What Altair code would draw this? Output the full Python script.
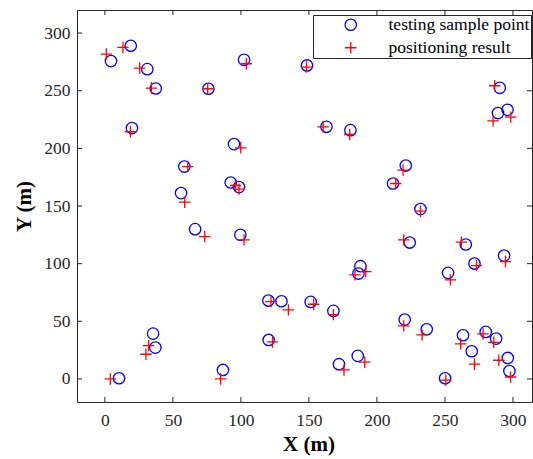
import altair as alt
import pandas as pd

# Test sample locations (m)
sample_x = [19.0, 4.5, 31.2, 37.4, 76.1, 102.3, 148.6, 19.9, 94.9, 58.4,
            92.5, 98.6, 56.0, 290.3, 289.0, 296.0, 162.9, 180.5, 221.2, 211.8,
            232.0, 224.1, 265.3, 293.5, 271.7, 187.9, 186.4, 252.3, 151.3, 168.0,
            220.4, 236.6, 263.3, 280.0, 287.6, 269.7, 296.2, 297.4, 250.1, 172.1,
            185.9, 66.3, 99.6, 120.2, 129.8, 120.4, 35.4, 37.1, 10.4, 86.8]
sample_y = [289.0, 275.7, 268.7, 251.9, 251.7, 276.8, 271.9, 217.6, 203.7, 184.2,
            170.4, 166.4, 161.2, 252.5, 230.6, 233.4, 218.7, 215.8, 185.1, 169.5,
            147.3, 118.3, 116.6, 107.0, 100.1, 97.8, 91.4, 92.0, 66.8, 59.0,
            51.5, 43.1, 37.9, 40.8, 35.0, 24.0, 18.2, 6.9, 0.6, 12.8,
            20.0, 129.9, 125.0, 68.0, 67.4, 33.8, 39.3, 27.2, 0.6, 7.8]

# Estimated positions for the same samples (m)
result_x = [13.3, 1.1, 25.6, 34.2, 75.6, 104.0, 148.2, 18.75, 99.9, 60.9,
            96.0, 98.6, 58.7, 286.6, 285.4, 298.4, 160.4, 180.0, 219.2, 213.8,
            232.0, 219.7, 262.1, 294.5, 273.2, 191.8, 183.9, 254.0, 153.5, 168.0,
            219.7, 233.2, 261.6, 278.0, 285.9, 271.7, 289.6, 298.2, 250.6, 175.8,
            191.0, 73.4, 102.3, 122.1, 134.9, 123.2, 32.2, 30.2, 4.0, 85.1]
result_y = [287.5, 281.8, 269.6, 252.3, 251.7, 273.4, 270.5, 214.4, 200.5, 184.2,
            167.8, 164.6, 153.3, 254.3, 223.9, 227.1, 218.7, 212.0, 181.1, 169.5,
            145.5, 120.6, 118.6, 101.8, 98.3, 93.1, 90.3, 85.9, 64.8, 55.8,
            46.0, 38.2, 30.4, 39.1, 31.8, 12.8, 16.2, 1.7, -1.1, 7.8,
            14.5, 123.5, 120.6, 67.1, 59.9, 32.1, 28.9, 21.4, 0.0, 0.0]

x_ticks = [0, 50, 100, 150, 200, 250, 300]
y_ticks = [0, 50, 100, 150, 200, 250, 300]

SERIES = ["testing sample point", "positioning result"]

W, H = 455, 392
AXIS_COLOR = "#262626"
FONT = "Liberation Serif"

points = pd.DataFrame({
    "x": sample_x + result_x,
    "y": sample_y + result_y,
    "kind": [SERIES[0]] * len(sample_x) + [SERIES[1]] * len(result_x),
})

xs = alt.Scale(domain=[-20.5, 314], nice=False, zero=False)
ys = alt.Scale(domain=[-20, 320], nice=False, zero=False)

x_axis = alt.Axis(values=x_ticks, title="X (m)", labelPadding=9,
                  titleX=W / 2 + 4, titleY=48, titleBaseline="alphabetic")
y_axis = alt.Axis(values=y_ticks, title="Y (m)", labelPadding=7,
                  titleX=-47, titleY=H / 2, titleAngle=270,
                  titleAlign="center", titleBaseline="alphabetic")

scatter = alt.Chart(points).mark_point(
    filled=False, size=130, strokeWidth=1.3, opacity=1
).encode(
    x=alt.X("x:Q", scale=xs, axis=x_axis),
    y=alt.Y("y:Q", scale=ys, axis=y_axis),
    shape=alt.Shape("kind:N",
                    scale=alt.Scale(domain=SERIES, range=["circle", "M-1,0H1M0,-1V1"]),
                    legend=alt.Legend(title=None)),
    color=alt.Color("kind:N",
                    scale=alt.Scale(domain=SERIES, range=["#0000ff", "#ff0000"]),
                    legend=alt.Legend(title=None)),
)

# Inward-pointing tick marks on all four sides of the box
xt = pd.DataFrame({"x": x_ticks})
yt = pd.DataFrame({"y": y_ticks})
TICK = 5

bottom_ticks = alt.Chart(xt).mark_rule(color=AXIS_COLOR, strokeWidth=1).encode(
    x=alt.X("x:Q", scale=xs, axis=x_axis), y=alt.value(H), y2=alt.value(H - TICK))
top_ticks = alt.Chart(xt).mark_rule(color=AXIS_COLOR, strokeWidth=1).encode(
    x=alt.X("x:Q", scale=xs, axis=x_axis), y=alt.value(0), y2=alt.value(TICK))
left_ticks = alt.Chart(yt).mark_rule(color=AXIS_COLOR, strokeWidth=1).encode(
    y=alt.Y("y:Q", scale=ys, axis=y_axis), x=alt.value(0), x2=alt.value(TICK))
right_ticks = alt.Chart(yt).mark_rule(color=AXIS_COLOR, strokeWidth=1).encode(
    y=alt.Y("y:Q", scale=ys, axis=y_axis), x=alt.value(W), x2=alt.value(W - TICK))

chart = alt.layer(
    scatter, bottom_ticks, top_ticks, left_ticks, right_ticks
).properties(
    width=W, height=H,
    autosize=alt.AutoSizeParams(type="none"),
    padding={"left": 77, "top": 10, "right": 1, "bottom": 57},
    background="white",
).configure_view(
    stroke=AXIS_COLOR, strokeWidth=1, fill="white"
).configure_axis(
    labelFont=FONT, labelFontSize=17.5, labelColor=AXIS_COLOR,
    ticks=False, domain=False, grid=False,
    titleFont=FONT, titleFontSize=21, titleFontWeight="bold", titleColor="black",
).configure_legend(
    orient="none", legendX=236, legendY=5,
    strokeColor=AXIS_COLOR, fillColor="white", padding=1, rowPadding=4,
    labelFont=FONT, labelFontSize=17.5, labelColor="black",
    symbolOffset=28, labelOffset=29, symbolSize=130, symbolStrokeWidth=1.3,
    cornerRadius=0,
)

chart.save("out.html", embed_options={"renderer": "svg", "actions": False})
